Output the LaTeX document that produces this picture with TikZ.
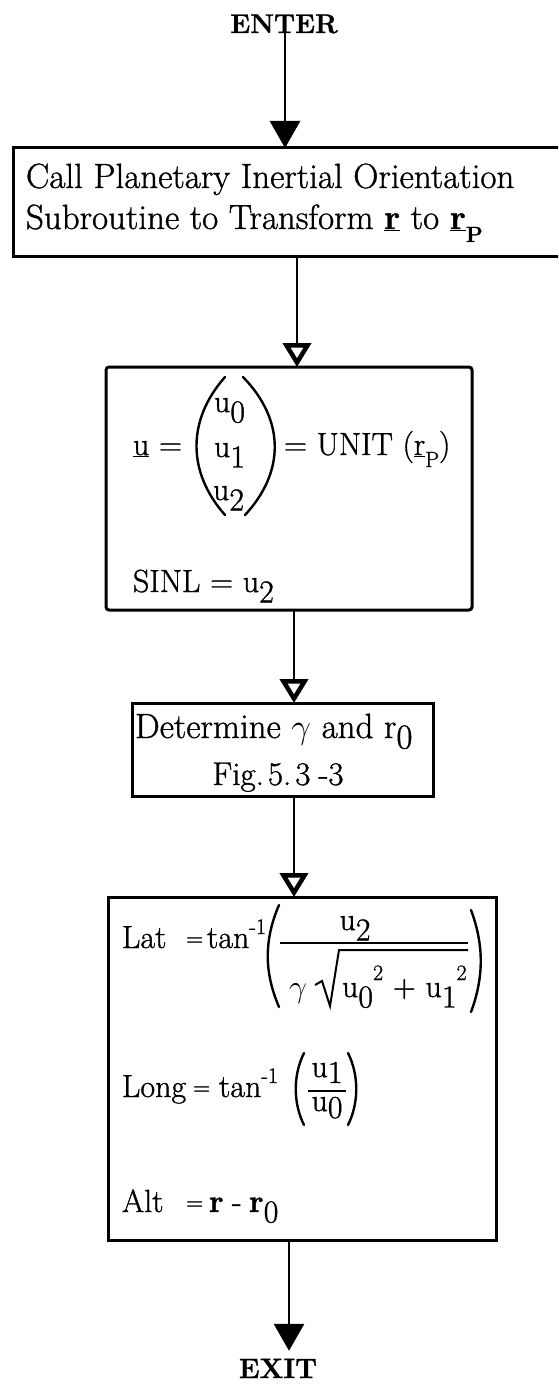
\RequirePackage{fix-cm}
\documentclass[tikz,border=0pt]{standalone}
\usepackage{fontspec}
\setmainfont{Latin Modern Roman}[FakeBold=1.0]
\usetikzlibrary{arrows.meta}
\newcommand\dn[2][-10.5pt]{\raisebox{#1}{#2}}
\newcommand\up[2][14pt]{\raisebox{#1}{\fontsize{22}{22}\selectfont #2}}
\newcommand\smP[1][-12pt]{\raisebox{#1}{\fontsize{22}{22}\selectfont P}}
\newcommand\eq{{\fontsize{24}{24}\selectfont =}}
\begin{document}
\begin{tikzpicture}[x=1pt,y=-1pt,
  box/.style={draw, line width=3pt, inner sep=0pt, outer sep=0pt},
  conn/.style={line width=2.8pt},
  fillhead/.style={-{Triangle[length=27pt,width=30pt]}},
  openhead/.style={-{Triangle[open,length=24pt,width=28pt,line width=4.5pt]}},
  paren/.style={line width=2.4pt, line cap=round},
  t/.style={inner sep=0pt, outer sep=0pt, anchor=base west, font=\fontsize{32}{38}\selectfont},
  tb/.style={t, font=\fontsize{35}{40}\selectfont},
  lab/.style={inner sep=0pt, outer sep=0pt, anchor=base, font=\fontsize{27}{30}\selectfont\bfseries}]
\useasboundingbox (0,0) rectangle (558,1391);
\clip (0,0) rectangle (558,1391);
\fill[white] (0,0) rectangle (558,1391);

% connector x positions
\coordinate (x1) at (285,0);
\coordinate (x2) at (297,0);
\coordinate (x3) at (294,0);
\coordinate (x4) at (289,0);

% ENTER and box 1
\node[lab] (enter) at (284,33) {ENTER};
\node[box, minimum width=562pt, minimum height=108pt] (b1) at (294,202) {};
\node[tb] (t1a) at (26,188) {Call Planetary Inertial Orientation};
\node[tb] (t1b) at (26,229) {Subroutine to Transform \underline{\textbf{r}} to \underline{\textbf{r}}\raisebox{-13pt}{\fontsize{22}{22}\selectfont\bfseries P}};

% box 2
\node[box, rounded corners=3pt, minimum width=366pt, minimum height=243pt] (b2) at (289,488.5) {};
\node[t] (ueq) at (133,455) {\underline{u} =};
\node[t] (u0) at (214,412) {u\dn{0}};
\node[t] (u1) at (214,457) {u\dn{1}};
\node[t] (u2) at (213,500) {u\dn{2}};
\draw[paren] (225,377) .. controls (187,420) and (187,472) .. (225,515);
\draw[paren] (243,377) .. controls (285,420) and (285,472) .. (245,515);
\node[t] (unit) at (284,455) {= UNIT (\underline{r}\smP)};
\node[t] (sinl) at (133,592) {SINL = u\dn{2}};

% box 3
\node[box, minimum width=301pt, minimum height=93pt] (b3) at (282.5,749.5) {};
\node[tb] (d1) at (135,738) {Determine $\gamma$ and r\dn{0}};
\node[t, anchor=base, font=\fontsize{33}{38}\selectfont] (d2) at (278,785) {Fig.\hspace{4pt}5.\hspace{4pt}3\hspace{8pt}-3};

% box 4
\node[box, minimum width=388pt, minimum height=343pt] (b4) at (302,1068.5) {};
% Lat
\node[t] (lat) at (122,948) {Lat};
\node[t] (lateq) at (186,946) {\eq};
\node[t] (lattan) at (207,948) {tan\up{-1}};
\draw[paren] (279,905) .. controls (264,940) and (264,972) .. (279,1007);
\node[t, anchor=base] (num) at (355,930) {u\dn{2}};
\draw[line width=2pt] (280,943) -- (468,943);
\node[t] (gam) at (289,997) {$\gamma$};
\draw[line width=2pt, line join=miter] (315,985) -- (322,981) -- (330,1006) -- (339,950) -- (468,950);
\node[t] (den) at (342,997) {u\dn{0}\up[17pt]{2} + u\dn{1}\up[17pt]{2}};
\draw[paren] (471,910) .. controls (484,945) and (484,977) .. (471,1012);
% Long
\node[t] (long) at (122,1097) {Long};
\node[t] (longeq) at (193,1095) {\eq};
\node[t] (longtan) at (219,1097) {tan\up{-1}};
\draw[paren] (304,1053) .. controls (293,1075) and (293,1103) .. (304,1125);
\node[t, anchor=base] (lu1) at (327,1077) {u\dn[-6pt]{1}};
\draw[line width=2pt] (308,1091) -- (346,1091);
\node[t, anchor=base] (lu0) at (327,1111) {u\dn[-7pt]{0}};
\draw[paren] (348,1053) .. controls (359,1075) and (359,1103) .. (348,1125);
% Alt
\node[t] (alt) at (122,1212) {Alt};
\node[t] (alteq) at (186,1210) {\eq};
\node[t] (altr) at (209,1212) {\textbf{r}};
\node[t] (altm) at (232,1212) {-};
\node[t] (altr0) at (249,1212) {\textbf{r}\dn{0}};

% EXIT
\node[lab, font=\fontsize{28}{30}\selectfont\bfseries] (exit) at (278,1378) {EXIT};

% connectors
\draw[conn, fillhead] (enter.base -| x1) -- (b1.north -| x1);
\draw[conn, openhead] (b1.south -| x2) -- (b2.north -| x2);
\draw[conn, openhead] (b2.south -| x3) -- (b3.north -| x3);
\draw[conn, openhead] (b3.south -| x3) -- (b4.north -| x3);
\draw[conn, fillhead, shorten >=8pt] (b4.south -| x4) -- (exit.north -| x4);
\end{tikzpicture}
\end{document}
